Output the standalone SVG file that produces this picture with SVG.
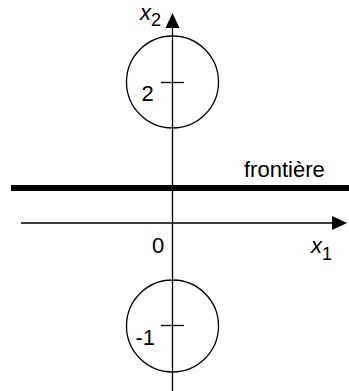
<svg xmlns="http://www.w3.org/2000/svg" width="349" height="391" viewBox="0 0 349 391">
<style>
.ln{stroke:#000;stroke-width:1.3;fill:none}
.t{font-family:"Liberation Sans",Arial,sans-serif;font-size:22px;fill:#000}
.s{font-size:18px}
</style>
<rect width="349" height="391" fill="#fff"/>
<g id="connectors">
<line class="ln" x1="172.5" y1="26" x2="172.5" y2="391"/>
<polygon points="172.5,13 165.5,28 179.5,28" fill="#000"/>
<line class="ln" x1="21" y1="223" x2="334" y2="223"/>
<polygon points="347,223 332,216 332,230" fill="#000"/>
<line x1="11" y1="188" x2="349" y2="188" stroke="#000" stroke-width="6"/>
</g>
<g id="circle-top">
<circle class="ln" cx="172.5" cy="82" r="46"/>
<line class="ln" x1="161" y1="82.5" x2="184" y2="82.5"/>
<text class="t" x="141.5" y="101">2</text>
</g>
<g id="circle-bottom">
<circle class="ln" cx="172.5" cy="326" r="46"/>
<line class="ln" x1="161" y1="325.5" x2="184" y2="325.5"/>
<text class="t" x="135.5" y="345">-1</text>
</g>
<g id="labels">
<text class="t" x="140" y="20" font-style="italic">x<tspan class="s" dy="6" font-style="normal">2</tspan></text>
<text class="t" x="311" y="253" font-style="italic">x<tspan class="s" dy="7" font-style="normal">1</tspan></text>
<text class="t" x="152" y="252.5">0</text>
<text class="t" x="244" y="176.5">frontière</text>
</g>
</svg>
